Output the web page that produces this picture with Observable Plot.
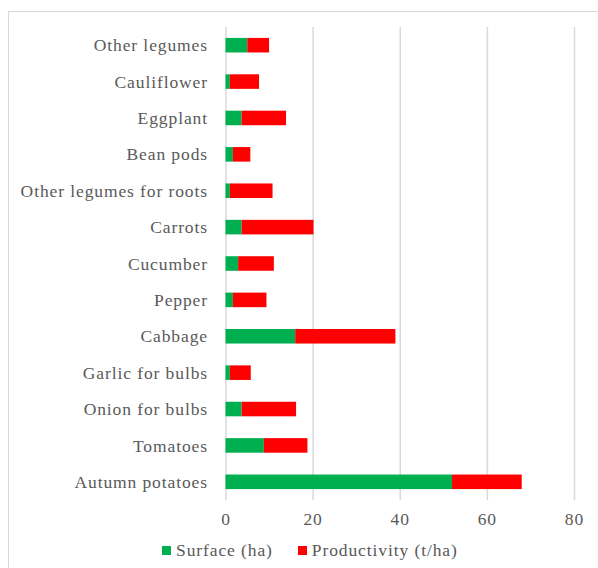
<!DOCTYPE html>
<html>
<head>
<meta charset="utf-8">
<script src="https://cdn.jsdelivr.net/npm/d3@7"></script>
<script src="https://cdn.jsdelivr.net/npm/@observablehq/plot@0.6"></script>
<style>
  body { margin: 0; background: #fff; font-family: "Liberation Serif", serif; }
  #wrap { position: relative; width: 598px; height: 568px; overflow: hidden; }
  #frame { position: absolute; left: 8px; top: 11px; width: 700px; height: 700px; border-top: 1.5px solid #d9d9d9; border-left: 1.5px solid #d9d9d9; }
  #chart { position: absolute; left: 0; top: 0; }
  #chart text { letter-spacing: 0.9px; }
  #legend { position: absolute; left: 162px; top: 540px; display: flex; gap: 25px; font-size: 17.5px; letter-spacing: 0.9px; color: #595959; }
  .item { display: flex; align-items: center; gap: 5px; }
  .sw { width: 9px; height: 9px; display: inline-block; }
</style>
</head>
<body>
<div id="wrap">
  <div id="frame"></div>
  <div id="chart"></div>
  <div id="legend"></div>
</div>
<script>
const categories = ["Other legumes","Cauliflower","Eggplant","Bean pods","Other legumes for roots","Carrots","Cucumber","Pepper","Cabbage","Garlic for bulbs","Onion for bulbs","Tomatoes","Autumn potatoes"];
const surface = [5, 1, 3.7, 1.7, 1, 3.7, 2.9, 1.7, 16, 1, 3.7, 8.8, 52];
const productivity = [5, 6.7, 10.2, 4, 9.8, 16.5, 8.2, 7.7, 23, 4.8, 12.5, 10, 16];
const seriesNames = ["Surface (ha)", "Productivity (t/ha)"];
const seriesColors = ["#00b050", "#ff0000"];
const xTicks = [0, 20, 40, 60, 80];

const data = [];
categories.forEach((c, i) => {
  data.push({cat: c, series: seriesNames[0], value: surface[i]});
  data.push({cat: c, series: seriesNames[1], value: productivity[i]});
});

const chart = Plot.plot({
  width: 598,
  height: 535,
  marginLeft: 225.5,
  marginRight: 24,
  marginTop: 27,
  marginBottom: 35,
  style: {fontFamily: "Liberation Serif, serif", fontSize: "17.5px", color: "#595959", background: "transparent"},
  x: {domain: [0, 80]},
  y: {domain: categories, paddingInner: 0.6, paddingOuter: 0.3, round: false},
  color: {domain: seriesNames, range: seriesColors},
  marks: [
    Plot.ruleX(xTicks, {stroke: "#d9d9d9", strokeWidth: 1.5}),
    Plot.barX(data, {y: "cat", x: "value", fill: "series", inset: 0}),
    Plot.axisX({ticks: xTicks, tickSize: 0, tickPadding: 12, fontSize: 17.5, fill: "#595959", label: null}),
    Plot.axisY({tickSize: 0, tickPadding: 18, fontSize: 17.5, fill: "#595959", label: null})
  ]
});
document.getElementById("chart").appendChild(chart);

const legend = document.getElementById("legend");
seriesNames.forEach((n, i) => {
  const it = document.createElement("div");
  it.className = "item";
  const sw = document.createElement("span");
  sw.className = "sw";
  sw.style.background = seriesColors[i];
  const t = document.createElement("span");
  t.textContent = n;
  it.appendChild(sw);
  it.appendChild(t);
  legend.appendChild(it);
});
</script>
</body>
</html>
